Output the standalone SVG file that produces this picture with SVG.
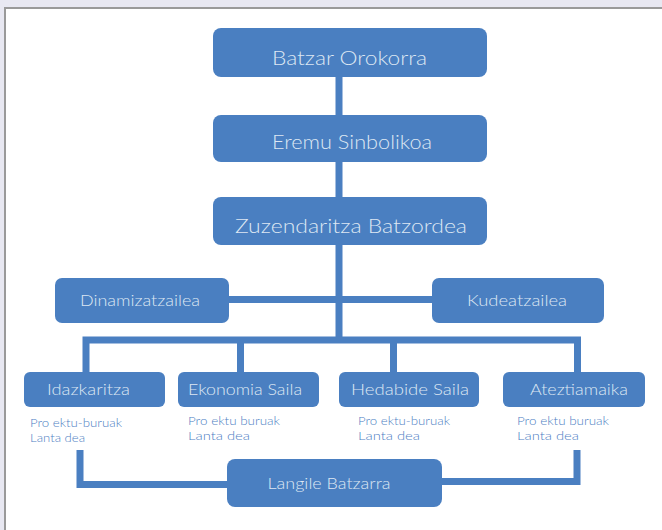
<svg xmlns="http://www.w3.org/2000/svg" width="662" height="530" viewBox="0 0 662 530">
  <style>
    .box { fill: #4a7fc1; }
    .lbl { fill: #dde7f3; font-family: Lato, "Liberation Sans", sans-serif; font-weight: 300; text-anchor: middle; }
    .big { font-size: 19px; }
    .mid { font-size: 15px; }
    .sub { fill: #4f7fc4; font-family: Lato, "Liberation Sans", sans-serif; font-weight: 300; font-size: 11px; }
    .con { fill: none; stroke: #4a7fc1; stroke-width: 7; stroke-linejoin: miter; }
  </style>
  <rect x="0" y="0" width="662" height="530" fill="#e8e8f2"/>
  <rect x="5" y="8" width="670" height="540" fill="#ffffff" stroke="#9a9a9a" stroke-width="2"/>

  <g id="connectors">
    <path class="con" d="M339 76 V340"/>
    <path class="con" d="M227 299.5 H433"/>
    <path class="con" d="M86 373 V340 H577.5 V373"/>
    <path class="con" d="M240.5 340 V373"/>
    <path class="con" d="M393.5 340 V373"/>
    <path class="con" d="M80 450 V484.5 H228"/>
    <path class="con" d="M577 450 V481.5 H441"/>
  </g>

  <g id="batzar-orokorra">
    <rect class="box" x="213" y="28" width="274" height="49" rx="8"/>
    <text class="lbl big" x="349.5" y="65" textLength="155" lengthAdjust="spacingAndGlyphs">Batzar Orokorra</text>
  </g>
  <g id="eremu-sinbolikoa">
    <rect class="box" x="213" y="115" width="274" height="47" rx="8"/>
    <text class="lbl big" x="352" y="149" textLength="160" lengthAdjust="spacingAndGlyphs">Eremu Sinbolikoa</text>
  </g>
  <g id="zuzendaritza-batzordea">
    <rect class="box" x="213" y="197" width="274" height="48" rx="8"/>
    <text class="lbl big" x="351" y="233" textLength="232" lengthAdjust="spacingAndGlyphs">Zuzendaritza Batzordea</text>
  </g>
  <g id="dinamizatzailea">
    <rect class="box" x="55" y="278" width="174" height="45" rx="7"/>
    <text class="lbl mid" x="140" y="306" textLength="120" lengthAdjust="spacingAndGlyphs">Dinamizatzailea</text>
  </g>
  <g id="kudeatzailea">
    <rect class="box" x="432" y="278" width="172" height="45" rx="7"/>
    <text class="lbl mid" x="517" y="306" textLength="100" lengthAdjust="spacingAndGlyphs">Kudeatzailea</text>
  </g>

  <g id="idazkaritza">
    <rect class="box" x="24" y="372" width="141" height="35" rx="6"/>
    <text class="lbl mid" x="88.5" y="395" textLength="83" lengthAdjust="spacingAndGlyphs">Idazkaritza</text>
    <text class="sub" x="30" y="427" textLength="92" lengthAdjust="spacingAndGlyphs">Pro ektu-buruak</text>
    <text class="sub" x="30" y="442" textLength="55" lengthAdjust="spacingAndGlyphs">Lanta dea</text>
  </g>
  <g id="ekonomia-saila">
    <rect class="box" x="178" y="372" width="141" height="35" rx="6"/>
    <text class="lbl mid" x="245" y="395" textLength="114" lengthAdjust="spacingAndGlyphs">Ekonomia Saila</text>
    <text class="sub" x="188" y="425" textLength="92" lengthAdjust="spacingAndGlyphs">Pro ektu buruak</text>
    <text class="sub" x="188" y="440" textLength="62" lengthAdjust="spacingAndGlyphs">Lanta dea</text>
  </g>
  <g id="hedabide-saila">
    <rect class="box" x="339" y="372" width="140" height="35" rx="6"/>
    <text class="lbl mid" x="410" y="395" textLength="118" lengthAdjust="spacingAndGlyphs">Hedabide Saila</text>
    <text class="sub" x="358" y="425" textLength="92" lengthAdjust="spacingAndGlyphs">Pro ektu-buruak</text>
    <text class="sub" x="358" y="440" textLength="62" lengthAdjust="spacingAndGlyphs">Lanta dea</text>
  </g>
  <g id="ateztiamaika">
    <rect class="box" x="503" y="372" width="142" height="35" rx="6"/>
    <text class="lbl mid" x="579" y="395" textLength="98" lengthAdjust="spacingAndGlyphs">Ateztiamaika</text>
    <text class="sub" x="517" y="425" textLength="92" lengthAdjust="spacingAndGlyphs">Pro ektu buruak</text>
    <text class="sub" x="517" y="440" textLength="62" lengthAdjust="spacingAndGlyphs">Lanta dea</text>
  </g>

  <g id="langile-batzarra">
    <rect class="box" x="227" y="459" width="215" height="48" rx="8"/>
    <text class="lbl mid" x="329" y="489" textLength="123" lengthAdjust="spacingAndGlyphs">Langile Batzarra</text>
  </g>
</svg>
